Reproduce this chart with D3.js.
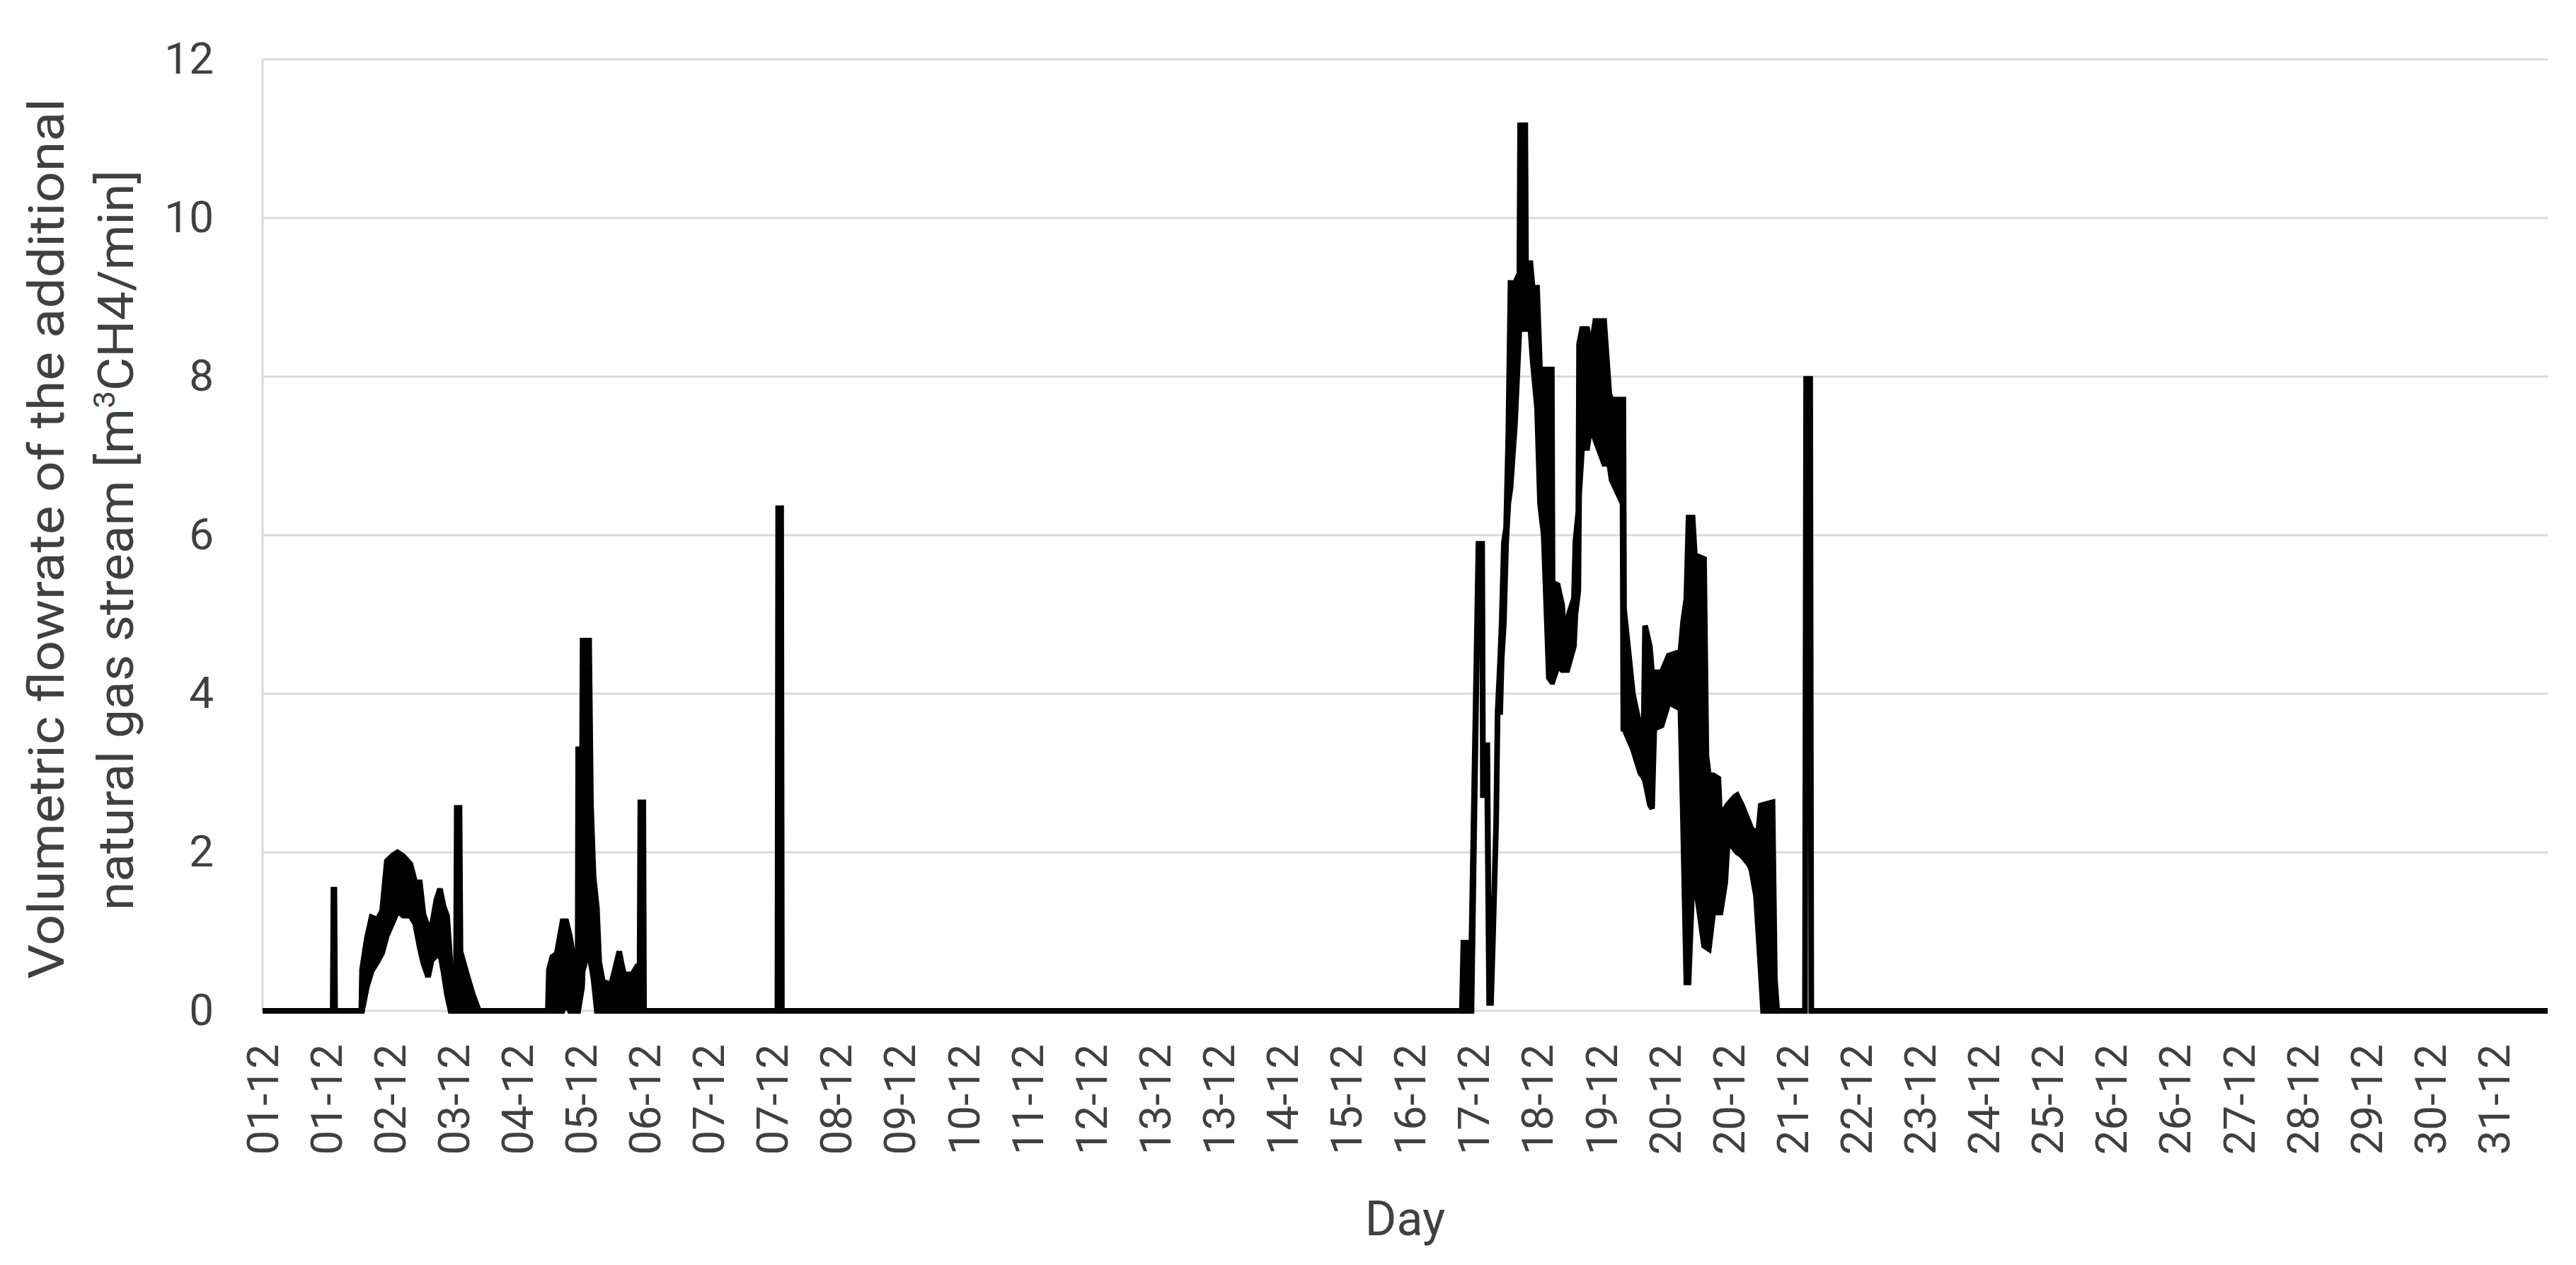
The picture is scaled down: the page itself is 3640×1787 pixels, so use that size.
<!DOCTYPE html>
<html>
<head>
<meta charset="utf-8">
<script src="https://cdn.jsdelivr.net/npm/d3@7"></script>
<style>
  html, body { margin: 0; padding: 0; background: #fff; }
  svg { display: block; font-family: Roboto, "Open Sans", sans-serif; }
  .grid line { stroke: #d9d9d9; stroke-width: 3; }
</style>
</head>
<body>
<svg id="chart" width="3640" height="1787"></svg>
<script>
// category labels as Excel printed them, one every ~0.865 day
var dayLabels = ['01-12', '01-12', '02-12', '03-12', '04-12', '05-12', '06-12', '07-12', '07-12',
  '08-12', '09-12', '10-12', '11-12', '12-12', '13-12', '13-12', '14-12', '15-12', '16-12',
  '17-12', '18-12', '19-12', '20-12', '20-12', '21-12', '22-12', '23-12', '24-12', '25-12',
  '26-12', '26-12', '27-12', '28-12', '29-12', '30-12', '31-12'];
var labelStep = 0.865; // days between two labels
var yTicks = [0, 2, 4, 6, 8, 10, 12];

// flow trace, [day since 01-12 00:00, low, high] in m3 CH4/min
// low/high = envelope of the fast oscillation (equal where it is a plain line)
var dec01Spike = [[0.952, 0, 0], [0.962, 1.53, 1.53], [0.974, 1.53, 1.53], [0.984, 0, 0]];

var dec02Hump = [
  [1.34, 0, 0], [1.35, 0, 0.52], [1.414, 0.30, 0.91], [1.479, 0.50, 1.18], [1.558, 0.62, 1.15],
  [1.622, 0.73, 1.26], [1.686, 0.95, 1.89], [1.766, 1.12, 1.96], [1.830, 1.26, 2.0],
  [1.910, 1.20, 1.95], [2.006, 1.20, 1.85], [2.070, 1.10, 1.62], [2.134, 0.79, 1.62],
  [2.182, 0.60, 1.22], [2.246, 0.43, 1.05], [2.294, 0.64, 1.06], [2.358, 0.70, 1.40],
  [2.407, 0.73, 1.54], [2.455, 0.49, 1.32], [2.503, 0.20, 1.20], [2.551, 0, 0.58],
  [2.625, 0, 0.58], [2.635, 0, 2.56], [2.672, 0, 2.56], [2.685, 0, 0.75], [2.775, 0, 0.45],
  [2.855, 0, 0.2], [2.935, 0, 0]
];

var dec04Hump = [
  [3.87, 0, 0], [3.885, 0, 0.52], [3.93, 0, 0.68], [3.99, 0, 0.72], [4.07, 0, 1.13],
  [4.12, 0.1, 1.13], [4.17, 0, 0.94], [4.215, 0, 0.68], [4.275, 0, 0.62], [4.282, 0, 3.3],
  [4.335, 0.3, 3.3], [4.342, 0.5, 4.67], [4.43, 0.78, 4.67], [4.455, 0.6, 2.6],
  [4.49, 0.4, 1.7], [4.535, 0, 1.3], [4.567, 0, 0.62], [4.615, 0, 0.37], [4.727, 0, 0.33],
  [4.775, 0, 0.5], [4.839, 0, 0.75], [4.87, 0, 0.6], [4.903, 0, 0.46], [5.015, 0, 0.46],
  [5.079, 0, 0.56], [5.115, 0, 0.56], [5.125, 2.63, 2.63], [5.165, 2.63, 2.63], [5.175, 0, 0]
];

var dec07Spike = [[6.985, 0, 0], [6.995, 6.34, 6.34], [7.035, 6.34, 6.34], [7.045, 0, 0]];

var dec17Hump = [
  [16.27, 0, 0], [16.29, 0, 0.86], [16.40, 0, 0.86], [16.495, 5.89, 5.89], [16.545, 5.89, 5.89],
  [16.555, 2.72, 3.35], [16.615, 2.72, 3.35], [16.64, 0.1, 0.1], [16.665, 0.1, 0.1],
  [16.69, 0.86, 0.86], [16.735, 2.38, 2.38], [16.755, 3.77, 3.77], [16.79, 3.77, 4.44],
  [16.81, 4.44, 4.9], [16.84, 4.9, 5.9], [16.87, 5.9, 6.1], [16.90, 6.4, 7.27],
  [16.93, 6.6, 9.18], [16.99, 7.4, 9.18], [17.05, 8.6, 9.3], [17.06, 8.6, 11.17],
  [17.13, 8.6, 11.17], [17.14, 8.6, 9.43], [17.20, 8.6, 9.43], [17.23, 8.2, 9.12],
  [17.29, 7.6, 9.12], [17.33, 6.4, 8.09], [17.38, 6.0, 8.09], [17.45, 4.2, 8.09],
  [17.49, 4.15, 8.09], [17.50, 4.15, 5.4], [17.57, 4.35, 5.37], [17.63, 4.3, 5.12],
  [17.67, 4.3, 4.61], [17.70, 4.3, 4.9], [17.73, 4.4, 5.03], [17.79, 4.6, 5.2],
  [17.81, 5.0, 5.92], [17.85, 5.3, 6.3], [17.86, 6.5, 8.41], [17.90, 7.1, 8.6],
  [17.97, 7.1, 8.6], [18.02, 7.4, 8.35], [18.08, 7.2, 8.7], [18.20, 6.9, 8.7],
  [18.27, 6.9, 7.78], [18.30, 6.7, 7.71], [18.45, 6.4, 7.71], [18.46, 3.56, 7.71],
  [18.47, 3.56, 5.07], [18.59, 3.3, 4.0], [18.69, 3.0, 3.56], [18.73, 2.95, 3.14],
  [18.755, 2.9, 4.86], [18.82, 2.6, 4.6], [18.85, 2.55, 4.27], [18.88, 3.56, 4.27],
  [18.98, 3.6, 4.27], [19.075, 3.89, 4.48], [19.235, 3.81, 4.53], [19.27, 2.38, 4.9],
  [19.315, 0.36, 5.2], [19.345, 0.36, 6.22], [19.40, 1.66, 6.22], [19.43, 1.66, 5.75],
  [19.555, 0.82, 5.7], [19.587, 0.8, 3.22], [19.62, 0.78, 2.97], [19.68, 1.24, 2.97],
  [19.75, 1.24, 2.93], [19.779, 1.24, 2.29], [19.843, 1.62, 2.55], [19.875, 2.13, 2.6],
  [19.971, 2.04, 2.7], [20.003, 2.0, 2.72], [20.067, 1.96, 2.6], [20.163, 1.85, 2.38],
  [20.195, 1.79, 2.3], [20.26, 1.45, 2.25], [20.29, 1.0, 2.25], [20.324, 0.5, 2.59],
  [20.356, 0, 2.6], [20.484, 0, 2.63], [20.516, 0, 0.4], [20.548, 0, 0]
];

var dec21Spike = [[20.924, 0, 0], [20.94, 7.97, 7.97], [20.995, 7.97, 7.97], [21.01, 0, 0]];

var flow = [[0, 0, 0]].concat(dec01Spike, dec02Hump, dec04Hump, dec07Spike,
  dec17Hump, dec21Spike, [[31, 0, 0]]);

var svg = d3.select('#chart');

var x = d3.scaleLinear().domain([0, 31]).range([371, 3600]);
var y = d3.scaleLinear().domain([0, 12]).range([1428, 84]);

// horizontal gridlines
svg.append('g')
  .attr('class', 'grid')
  .selectAll('line')
  .data(yTicks)
  .enter()
  .append('line')
  .attr('x1', x(0))
  .attr('x2', x(31))
  .attr('y1', function(d) { return y(d) })
  .attr('y2', function(d) { return y(d) });

// value axis line
svg.append('line')
  .attr('x1', x(0)).attr('x2', x(0))
  .attr('y1', y(12)).attr('y2', y(0))
  .style('stroke', '#d9d9d9')
  .style('stroke-width', 3);

// y axis labels
var yAxis = svg.append('g')
  .attr('transform', 'translate(' + x(0) + ',0)')
  .call(d3.axisLeft(y).tickValues(yTicks).tickSize(0).tickPadding(69));
yAxis.select('.domain').remove();
yAxis.attr('font-size', 62).attr('font-family', null);
yAxis.selectAll('text').style('fill', '#404040');

// x axis labels, rotated
var xAxis = svg.append('g')
  .attr('transform', 'translate(0,' + y(0) + ')')
  .call(d3.axisBottom(x)
    .tickValues(d3.range(dayLabels.length).map(function(i) { return i * labelStep }))
    .tickFormat(function(d, i) { return dayLabels[i] })
    .tickSize(0));
xAxis.select('.domain').remove();
xAxis.attr('font-size', 62).attr('font-family', null);
xAxis.selectAll('text')
  .attr('transform', 'rotate(-90)')
  .attr('x', -47)
  .attr('y', 21)
  .attr('dy', null)
  .style('text-anchor', 'end')
  .style('fill', '#404040');

// the trace: band between low and high, outlined like a thick line
var area = d3.area()
  .x(function(d) { return x(d[0]) })
  .y0(function(d) { return y(d[1]) })
  .y1(function(d) { return y(d[2]) });

svg.append('path')
  .datum(flow)
  .attr('d', area)
  .style('fill', '#000')
  .style('stroke', '#000')
  .style('stroke-width', 8)
  .style('stroke-linejoin', 'miter')
  .style('stroke-miterlimit', 2);

// axis titles
svg.append('text')
  .attr('x', (x(0) + x(31)) / 2)
  .attr('y', 1745)
  .attr('text-anchor', 'middle')
  .attr('font-size', 68)
  .style('fill', '#404040')
  .text('Day');

svg.append('text')
  .attr('transform', 'translate(90,761) rotate(-90)')
  .attr('text-anchor', 'middle')
  .attr('font-size', 70)
  .attr('textLength', 1244)
  .attr('lengthAdjust', 'spacingAndGlyphs')
  .style('fill', '#404040')
  .text('Volumetric flowrate of the additional');

var t2 = svg.append('text')
  .attr('transform', 'translate(188,763) rotate(-90)')
  .attr('text-anchor', 'middle')
  .attr('font-size', 70)
  .attr('textLength', 1046)
  .attr('lengthAdjust', 'spacingAndGlyphs')
  .style('fill', '#404040');
t2.append('tspan').text('natural gas stream [m');
t2.append('tspan').attr('font-size', 42).attr('dy', -26).text('3');
t2.append('tspan').attr('dy', 26).text('CH4/min]');
</script>
</body>
</html>
